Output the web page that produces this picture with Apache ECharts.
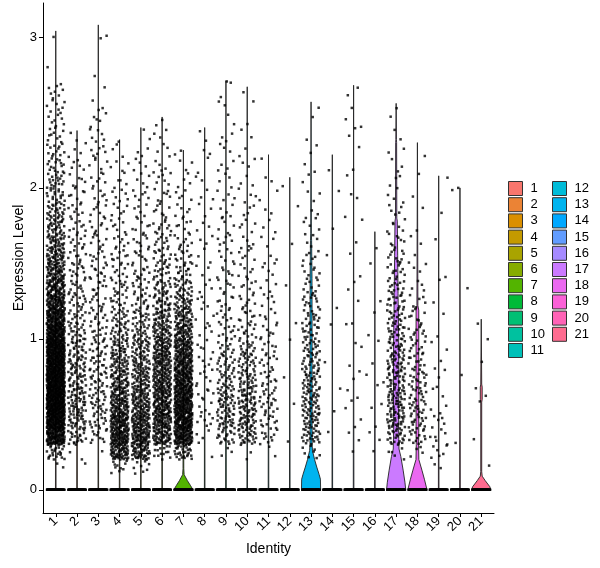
<!DOCTYPE html>
<html>
<head>
<meta charset="utf-8">
<script src="https://cdn.jsdelivr.net/npm/echarts@6/dist/echarts.min.js"></script>
<style>
  html, body { margin: 0; padding: 0; background: #fff; }
  #chart { width: 600px; height: 568px; }
</style>
</head>
<body>
<div id="chart"></div>
<script>
// clusters (Identity)
const categories = ['1','2','3','4','5','6','7','8','9','10','11','12','13','14','15','16','17','18','19','20','21'];

// ggplot hue palette, 21 levels
const palette = ['#F8766D','#EB8335','#DA8F00','#C49A00','#A9A400','#86AC00','#53B400','#00BA38','#00BF74','#00C19F',
                 '#00C0B8','#00BCD8','#00B4EF','#00A8FF','#619CFF','#A58AFF','#CB7AFF','#EB69F0','#FB61D7','#FF63B6','#FF6C90'];

// highest expression value per cluster (top of each violin)
const violinMax = [3.04, 2.38, 3.08, 2.32, 2.40, 2.47, 2.25, 2.40, 2.71, 2.67, 2.22, 2.07, 2.57, 2.22, 2.68, 1.71, 2.56, 2.30, 2.08, 2.00, 1.13];

// cells with zero expression per cluster (estimated, they form the bar at 0)
const zeroCounts = [60, 60, 60, 60, 60, 60, 60, 60, 60, 60, 60, 60, 60, 60, 60, 60, 60, 60, 60, 60, 60];

// expressing cells per 0.1 bin (bin 0 = 0.0-0.1, bin 1 = 0.1-0.2, ...)
const dotCounts = [
  [0,2,25,110,150,170,170,160,150,140,120,100,80,65,55,45,35,30,25,20,18,15,12,10,8,8,7,1,0,0,1],
  [0,1,3,20,28,28,28,25,25,22,18,15,14,12,12,10,10,9,8,7,6,5,4,2],
  [0,0,1,10,15,16,16,16,15,14,12,12,10,10,10,9,8,8,7,7,6,6,6,6,5,3,1,1,0,1,1],
  [0,10,60,80,75,60,50,40,35,30,22,18,14,12,10,10,8,7,6,6,5,4,3,1],
  [0,8,50,65,60,50,45,38,32,28,22,18,14,12,10,9,8,7,6,6,5,4,3,2],
  [0,0,15,55,65,65,62,58,55,50,40,32,25,20,16,14,12,10,8,7,6,5,4,3,2],
  [0,0,30,90,100,100,95,85,75,65,50,40,30,22,16,12,9,7,6,5,4,3,2],
  [0,0,1,4,6,6,6,6,5,5,4,4,4,4,3,3,3,3,3,3,2,2,2,2],
  [0,0,3,18,25,25,22,18,15,12,10,8,8,7,7,6,6,5,5,4,4,4,3,3,2,2,2,1],
  [0,0,3,25,32,30,28,24,20,15,12,10,8,7,6,6,5,5,4,4,3,3,2,2,1,1,1],
  [0,0,2,10,12,12,12,10,9,8,7,6,5,4,4,3,3,3,2,2,2,1],
  [0,0,0,1,0,1,0,1,0,1,0,1,0,1,0,0,1,0,1,0,1],
  [0,0,8,22,25,25,24,22,20,18,16,14,12,10,8,6,5,4,3,3,2,2,2,1,1,1],
  [0,0,0,1,0,1,1,0,1,0,1,0,1,0,0,1,0,1,0,1,0,1],
  [0,0,1,2,2,2,2,2,1,2,1,1,1,2,1,1,1,1,1,2,1,1,1,2,2,1,2],
  [0,0,1,2,1,2,1,2,1,1,1,1,1,0,1,0,1],
  [0,0,6,22,28,28,26,25,24,22,20,18,16,14,12,10,8,6,5,4,3,3,2,2,1,1],
  [0,0,4,14,16,16,15,14,12,11,10,8,6,4,3,2,2,1,1,1,1,0,1],
  [0,2,6,6,5,3,3,2,2,2,1,1,1,1,1,0,1,0,1,0,1],
  [0,0,0,1,0,0,0,1,0,0,0,0,0,1,0,0,0,0,0,1,1],
  [0,1,0,1,0,1,2,0,1,1,0,1]
];

// violin outlines where they show: [level, width relative to the widest point]
const violin7  = [[0,1],[0.03,0.72],[0.06,0.42],[0.1,0.08],[0.14,0.04],[2.25,0]];
const violin13 = [[0,1],[0.07,0.98],[0.1,0.85],[0.15,0.6],[0.2,0.37],[0.26,0.15],[0.3,0.11],[1.0,0.11],[1.4,0.1],[1.65,0.06],[1.7,0.03],[2.57,0]];
const violin17 = [[0,1],[0.05,0.92],[0.13,0.73],[0.22,0.49],[0.27,0.3],[0.4,0.26],[0.8,0.28],[1.0,0.26],[1.3,0.2],[1.55,0.16],[1.78,0.12],[1.8,0.07],[2.3,0.05],[2.32,0.03],[2.56,0]];
const violin18 = [[0,1],[0.07,0.73],[0.13,0.47],[0.2,0.15],[0.3,0.12],[0.35,0.14],[1.19,0.14],[1.22,0.05],[2.3,0]];
const violin21 = [[0,1],[0.02,0.9],[0.06,0.42],[0.09,0.1],[0.12,0.05],[0.58,0.05],[0.6,0.1],[0.68,0.1],[0.7,0.05],[1.13,0]];

const yTicks = [0, 1, 2, 3];

// the rest of the clusters only show a thin stem
const violinShapes = categories.map((c, i) => {
    if (c === '7') return violin7;
    if (c === '13') return violin13;
    if (c === '17') return violin17;
    if (c === '18') return violin18;
    if (c === '21') return violin21;
    return [[0, 1], [0.008, 0.03], [violinMax[i], 0]];
});

// quasi random spread so the jitter looks like geom_jitter without Math.random
function halton(i, b) {
    let f = 1, r = 0;
    while (i > 0) { f /= b; r += f * (i % b); i = Math.floor(i / b); }
    return r;
}

const jitterWidth = 0.84;
const points = [];
let seq = 1;
dotCounts.forEach((counts, ci) => {
    const x = ci + 1;
    for (let k = 0; k < zeroCounts[ci]; k++) {
        points.push([x + (halton(seq, 3) - 0.5) * jitterWidth, 0]);
        seq++;
    }
    counts.forEach((n, b) => {
        const lo = b * 0.1;
        const hi = Math.min((b + 1) * 0.1, violinMax[ci]);
        for (let k = 0; k < n; k++) {
            const y = lo + (hi - lo) * halton(seq, 2);
            points.push([x + (halton(seq, 3) - 0.5) * jitterWidth, y]);
            seq++;
        }
    });
});

const fontFamily = "'Liberation Sans', Arial, sans-serif";

const violinSeries = categories.map((name, i) => ({
    name: name,
    type: 'custom',
    silent: true,
    clip: true,
    z: 2,
    itemStyle: { color: palette[i] },
    data: [[i + 1, 0]],
    renderItem: function (params, api) {
        const shape = violinShapes[params.seriesIndex];
        const x = params.seriesIndex + 1;
        const full = api.size([0.45, 0])[0];
        const left = [], right = [];
        shape.forEach(([v, w]) => {
            const p = api.coord([x, v]);
            left.push([p[0] - w * full, p[1]]);
            right.unshift([p[0] + w * full, p[1]]);
        });
        return {
            type: 'polygon',
            shape: { points: left.concat(right) },
            style: { fill: palette[params.seriesIndex], stroke: '#222', lineWidth: 0.9 }
        };
    }
}));

const legendBase = {
    orient: 'vertical',
    top: 176,
    itemWidth: 14,
    itemHeight: 14,
    itemGap: 1.2,
    icon: 'rect',
    selectedMode: false,
    itemStyle: { borderColor: '#333', borderWidth: 1 },
    textStyle: { fontSize: 13, color: '#000', fontFamily: fontFamily, padding: [0, 0, 0, 3] }
};

const option = {
    animation: false,
    backgroundColor: '#fff',
    grid: { left: 43, right: 106, top: 3, bottom: 55 },
    legend: [
        Object.assign({}, legendBase, { left: 503, data: categories.slice(0, 11) }),
        Object.assign({}, legendBase, { left: 547, data: categories.slice(11) })
    ],
    xAxis: {
        type: 'value',
        min: 0.4,
        max: 21.6,
        name: 'Identity',
        nameLocation: 'middle',
        nameGap: 29,
        nameMoveOverlap: false,
        nameTextStyle: { fontSize: 14, color: '#000', fontFamily: fontFamily },
        splitLine: { show: false },
        axisLine: { onZero: false, lineStyle: { color: '#000', width: 1 } },
        axisTick: { customValues: categories.map((c, i) => i + 1), length: 4, lineStyle: { color: '#000' } },
        axisLabel: {
            customValues: categories.map((c, i) => i + 1),
            formatter: v => categories[Math.round(v) - 1],
            rotate: 45,
            margin: 6,
            fontSize: 13,
            color: '#000',
            fontFamily: fontFamily
        }
    },
    yAxis: {
        type: 'value',
        min: -0.154,
        max: 3.225,
        name: 'Expression Level',
        nameLocation: 'middle',
        nameGap: 17,
        nameMoveOverlap: false,
        nameTextStyle: { fontSize: 14, color: '#000', fontFamily: fontFamily },
        splitLine: { show: false },
        axisLine: { show: true, onZero: false, lineStyle: { color: '#000', width: 1 } },
        axisTick: { show: true, customValues: yTicks, length: 4, lineStyle: { color: '#000' } },
        axisLabel: { customValues: yTicks, margin: 6, fontSize: 13, color: '#000', fontFamily: fontFamily }
    },
    series: violinSeries.concat([{
        name: 'cells',
        type: 'scatter',
        silent: true,
        z: 3,
        symbol: 'rect',
        symbolSize: 2.5,
        itemStyle: { color: '#000' },
        data: points
    }])
};

const chart = echarts.init(document.getElementById('chart'));
chart.setOption(option);
</script>
</body>
</html>
